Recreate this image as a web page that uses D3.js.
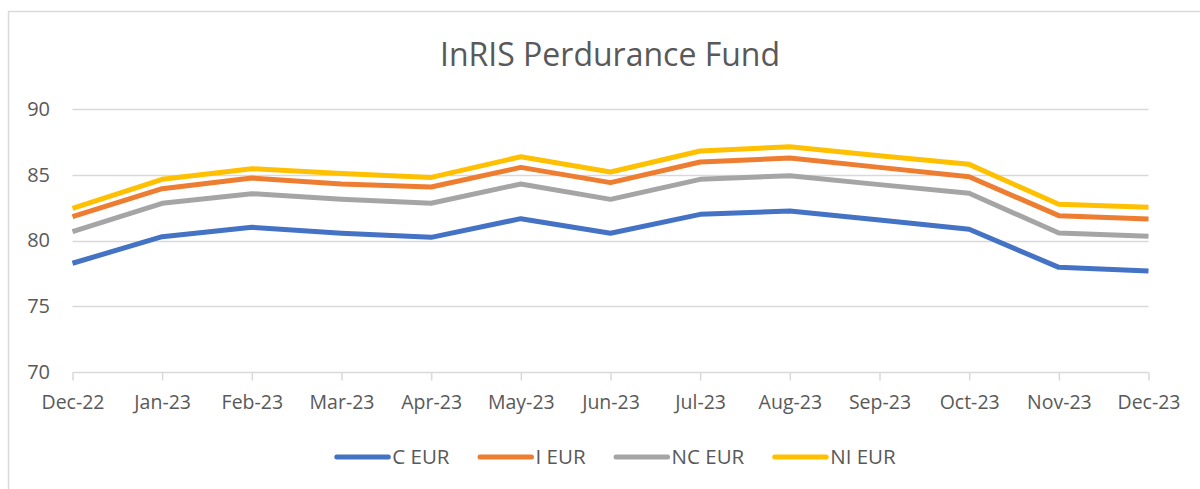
<!DOCTYPE html>
<html>
<head>
<meta charset="utf-8">
<script src="https://cdn.jsdelivr.net/npm/d3@7"></script>
<style>
  body { margin: 0; background: #fff; }
  text { font-family: "Open Sans", sans-serif; fill: #595959; }
</style>
</head>
<body>
<script>
// month labels on the x axis
var months = ["Dec-22", "Jan-23", "Feb-23", "Mar-23", "Apr-23", "May-23", "Jun-23",
              "Jul-23", "Aug-23", "Sep-23", "Oct-23", "Nov-23", "Dec-23"];

// share class values
var cEur  = [78.27, 80.29, 81.00, 80.55, 80.24, 81.66, 80.55, 81.99, 82.24, 81.56, 80.85, 77.96, 77.68];
var iEur  = [81.81, 83.94, 84.75, 84.30, 84.07, 85.56, 84.40, 85.97, 86.27, 85.56, 84.85, 81.89, 81.63];
var ncEur = [80.67, 82.83, 83.56, 83.13, 82.83, 84.30, 83.13, 84.65, 84.93, 84.25, 83.59, 80.57, 80.32];
var niEur = [82.45, 84.65, 85.46, 85.10, 84.80, 86.37, 85.21, 86.81, 87.13, 86.45, 85.79, 82.75, 82.52];

var seriesNames = ["C EUR", "I EUR", "NC EUR", "NI EUR"];
var yTicks = [70, 75, 80, 85, 90];

var colors = ["#4472C4", "#ED7D31", "#A5A5A5", "#FFC000"];
var series = [cEur, iEur, ncEur, niEur].map(function(vals, i) {
  return { name: seriesNames[i], color: colors[i], values: vals };
});

var width = 1200, height = 489;

var svg = d3.select("body").append("svg")
  .attr("width", width)
  .attr("height", height);

// chart border (only left and top show in the crop)
svg.append("rect")
  .attr("x", 8.5).attr("y", 11.5)
  .attr("width", 1300).attr("height", 600)
  .attr("fill", "none")
  .attr("stroke", "#d9d9d9")
  .attr("stroke-width", 1.5);

var x = d3.scalePoint()
  .domain(months)
  .range([72.5, 1148.5]);

var y = d3.scaleLinear()
  .domain([70, 90])
  .range([372, 109]);

// title
svg.append("text")
  .attr("x", 610)
  .attr("y", 66)
  .attr("text-anchor", "middle")
  .style("font-size", "32px")
  .text("InRIS Perdurance Fund");

// gridlines
svg.append("g")
  .selectAll("line")
  .data(yTicks.filter(function(d) { return d > 70; }))
  .enter().append("line")
    .attr("x1", 72.5).attr("x2", 1148.5)
    .attr("y1", function(d) { return Math.round(y(d)) + 0.5; })
    .attr("y2", function(d) { return Math.round(y(d)) + 0.5; })
    .attr("stroke", "#d9d9d9")
    .attr("stroke-width", 1.5);

// y axis labels
var yAxis = d3.axisLeft(y).tickValues(yTicks).tickSize(0).tickPadding(0);
var yg = svg.append("g")
  .attr("transform", "translate(50,0)")
  .call(yAxis);
yg.select(".domain").remove();
yg.selectAll("text")
  .style("font-size", "20px")
  .attr("fill", "#595959");

// x axis
var xAxis = d3.axisBottom(x).tickSize(8).tickPadding(15);
var xg = svg.append("g")
  .attr("transform", "translate(0," + (Math.round(y(70)) + 0.5) + ")")
  .call(xAxis);
xg.select(".domain")
  .attr("stroke", "#d9d9d9")
  .attr("stroke-width", 1.5)
  .attr("d", "M72.5,0H1148.5");
xg.selectAll(".tick line")
  .attr("stroke", "#d9d9d9")
  .attr("stroke-width", 1.5);
xg.selectAll(".tick text")
  .style("font-size", "19.5px")
  .attr("fill", "#595959");

// lines
var line = d3.line()
  .x(function(d, i) { return x(months[i]); })
  .y(function(d) { return y(d); });

svg.append("g")
  .selectAll("path")
  .data(series)
  .enter().append("path")
    .attr("d", function(d) { return line(d.values); })
    .attr("fill", "none")
    .attr("stroke", function(d) { return d.color; })
    .attr("stroke-width", 5)
    .attr("stroke-linejoin", "round");

// legend
var legend = svg.append("g");
var lx = 0;
series.forEach(function(s, i) {
  var item = legend.append("g").attr("transform", "translate(" + lx + ",0)");
  item.append("line")
    .attr("x1", 2.5).attr("x2", 54)
    .attr("y1", 0).attr("y2", 0)
    .attr("stroke", s.color)
    .attr("stroke-width", 5)
    .attr("stroke-linecap", "round");
  var t = item.append("text")
    .attr("x", 58)
    .attr("y", 7)
    .style("font-size", "20.5px")
    .text(s.name);
  lx += 58 + t.node().getComputedTextLength() + 28;
});
var legendW = lx - 28;
legend.attr("transform", "translate(" + (615 - legendW / 2) + ",457)");
</script>
</body>
</html>
